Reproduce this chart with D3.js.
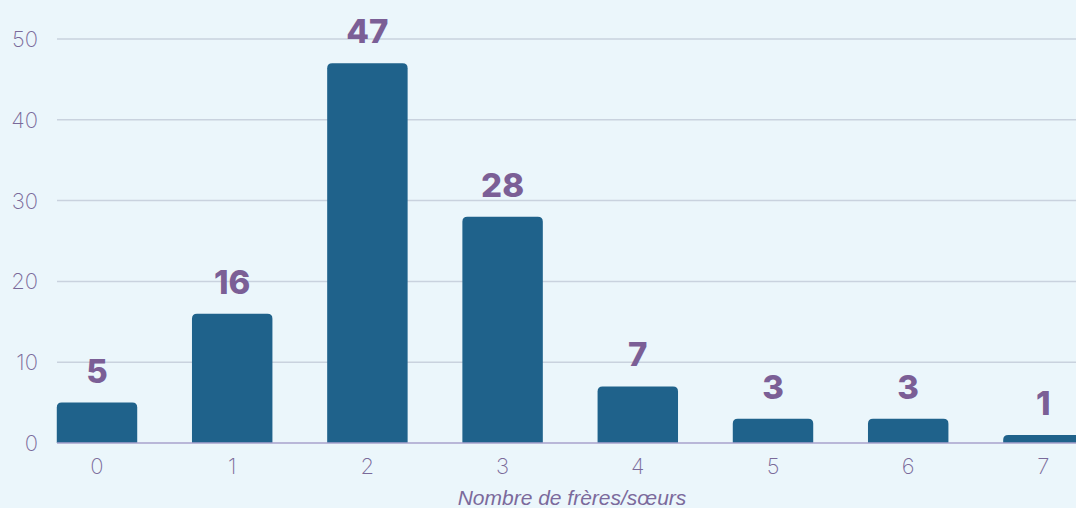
<!DOCTYPE html>
<html>
<head>
<meta charset="utf-8">
<script src="https://cdn.jsdelivr.net/npm/d3@7"></script>
<style>
  html, body { margin: 0; padding: 0; background: #ebf6fb; overflow: hidden; }
</style>
</head>
<body>
<div id="chart"></div>
<script>
// Data
var categories = ["0", "1", "2", "3", "4", "5", "6", "7"];
var counts = [5, 16, 47, 28, 7, 3, 3, 1];
var yTicks = [0, 10, 20, 30, 40, 50];
var xTitle = "Nombre de frères/sœurs";

var W = 1076, H = 508;

var svg = d3.select("#chart")
  .append("svg")
    .attr("width", W)
    .attr("height", H);

svg.append("rect")
  .attr("width", W).attr("height", H)
  .attr("fill", "#ebf6fb");

// Scales
var x = d3.scaleBand()
  .domain(categories)
  .range([29.4, 1111])
  .paddingInner(0.405)
  .paddingOuter(0.2025);

var y = d3.scaleLinear()
  .domain([0, 50])
  .range([443, 39]);

// Grid lines
svg.append("g")
  .selectAll("line")
  .data(yTicks.filter(function(d) { return d > 0; }))
  .enter().append("line")
    .attr("x1", 57)
    .attr("x2", W)
    .attr("y1", function(d) { return y(d); })
    .attr("y2", function(d) { return y(d); })
    .attr("stroke", "#c9d2de")
    .attr("stroke-width", 1.5);

// Y tick labels
svg.append("g")
  .selectAll("text")
  .data(yTicks)
  .enter().append("text")
    .attr("x", 38)
    .attr("y", function(d) { return y(d); })
    .attr("dy", "0.36em")
    .attr("text-anchor", "end")
    .attr("font-family", "Inter, Lato, sans-serif")
    .attr("font-weight", 200)
    .attr("font-size", "22px")
    .attr("fill", "#7a6a9a")
    .text(function(d) { return d; });

// Bars with rounded top corners
var r = 5;
svg.append("g")
  .selectAll("path")
  .data(counts)
  .enter().append("path")
    .attr("d", function(d, i) {
      var x0 = x(categories[i]), w = x.bandwidth();
      var yt = y(d), yb = y(0);
      return "M" + x0 + "," + yb +
        "V" + (yt + r) +
        "Q" + x0 + "," + yt + " " + (x0 + r) + "," + yt +
        "H" + (x0 + w - r) +
        "Q" + (x0 + w) + "," + yt + " " + (x0 + w) + "," + (yt + r) +
        "V" + yb + "Z";
    })
    .attr("fill", "#1f628b");

// Baseline
svg.append("line")
  .attr("x1", 57).attr("x2", W)
  .attr("y1", y(0)).attr("y2", y(0))
  .attr("stroke", "#a8a2cc")
  .attr("stroke-width", 1.5);

// Value labels
svg.append("g")
  .selectAll("text")
  .data(counts)
  .enter().append("text")
    .attr("x", function(d, i) { return x(categories[i]) + x.bandwidth() / 2; })
    .attr("y", function(d) { return y(d) - 20; })
    .attr("text-anchor", "middle")
    .attr("font-family", "Inter, 'Open Sans', sans-serif")
    .attr("font-weight", 800)
    .attr("font-size", "33px")
    .attr("fill", "#7b5f96")
    .text(function(d) { return d; });

// X tick labels
svg.append("g")
  .selectAll("text")
  .data(categories)
  .enter().append("text")
    .attr("x", function(d) { return x(d) + x.bandwidth() / 2; })
    .attr("y", 474)
    .attr("text-anchor", "middle")
    .attr("font-family", "Inter, Lato, sans-serif")
    .attr("font-weight", 200)
    .attr("font-size", "22px")
    .attr("fill", "#7a6a9a")
    .text(function(d) { return d; });

// X axis title
svg.append("text")
  .attr("x", 572)
  .attr("y", 505)
  .attr("text-anchor", "middle")
  .attr("font-family", "'Liberation Sans', Arial, sans-serif")
  .attr("font-style", "italic")
  .attr("font-size", "21px")
  .attr("fill", "#7b6a9c")
  .text(xTitle);
</script>
</body>
</html>
